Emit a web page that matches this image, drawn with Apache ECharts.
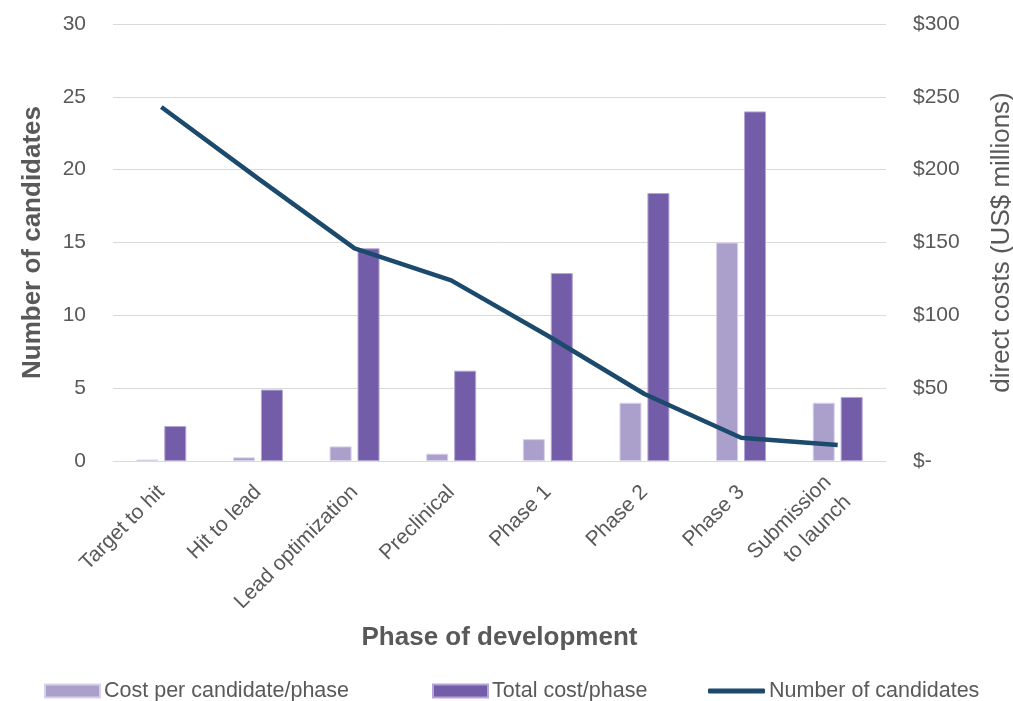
<!DOCTYPE html>
<html>
<head>
<meta charset="utf-8">
<script src="https://cdn.jsdelivr.net/npm/echarts@6/dist/echarts.min.js"></script>
<style>
  html, body { margin: 0; padding: 0; background: #fff; overflow: hidden; }
  #chart { width: 1013px; height: 701px; }
</style>
</head>
<body>
<div id="chart"></div>
<script>
// Development phases along the x axis
const phases = ['Target to hit', 'Hit to lead', 'Lead optimization', 'Preclinical',
                'Phase 1', 'Phase 2', 'Phase 3', 'Submission\nto launch'];
// Direct cost per candidate in each phase (US$ millions)
const costPerCandidate = [1, 2.5, 10, 5, 15, 40, 150, 40];
// Total direct cost of each phase (US$ millions)
const totalCost = [24, 49, 146, 62, 129, 184, 240, 44];
// Candidates needed in each phase for one launch
const candidates = [24.3, 19.4, 14.6, 12.4, 8.6, 4.6, 1.6, 1.1];
// Right axis tick labels
const costTickLabels = ['$-', '$50', '$100', '$150', '$200', '$250', '$300'];

const FONT = '"Liberation Sans", Arial, Helvetica, sans-serif';
const GREY = '#595959';

const chart = echarts.init(document.getElementById('chart'), null, { renderer: 'canvas', width: 1013, height: 701 });

const legendBase = {
  top: 678,
  padding: 0,
  itemGap: 0,
  itemHeight: 13,
  itemWidth: 55,
  textStyle: { fontFamily: FONT, fontSize: 21.5, color: GREY, lineHeight: 26, padding: [0, 0, 0, -1] },
  selectedMode: false
};

chart.setOption({
  backgroundColor: '#ffffff',
  animation: false,
  textStyle: { fontFamily: FONT },
  grid: { left: 113, right: 127, top: 24, bottom: 240, containLabel: false, outerBoundsMode: 'none' },
  legend: [
    Object.assign({}, legendBase, { left: 44, data: [{ name: 'Cost per candidate/phase', icon: 'rect' }] }),
    Object.assign({}, legendBase, { left: 432, data: [{ name: 'Total cost/phase', icon: 'rect' }] }),
    Object.assign({}, legendBase, {
      left: 708, itemHeight: 5, itemWidth: 57,
      data: [{ name: 'Number of candidates', icon: 'roundRect' }]
    })
  ],
  xAxis: {
    type: 'category',
    data: phases,
    name: 'Phase of development',
    nameLocation: 'middle',
    nameGap: 164,
    nameTextStyle: { fontFamily: FONT, fontSize: 26, fontWeight: 'bold', color: GREY },
    axisLine: { show: true, lineStyle: { color: '#d9d9d9', width: 1 } },
    axisTick: { show: false },
    axisLabel: {
      rotate: 45,
      interval: 0,
      margin: 28,
      fontFamily: FONT,
      fontSize: 21,
      color: GREY,
      lineHeight: 28,
      align: 'right'
    }
  },
  yAxis: [
    {
      type: 'value',
      min: 0,
      max: 30,
      interval: 5,
      name: 'Number of candidates',
      nameLocation: 'middle',
      nameGap: 67,
      nameTextStyle: { fontFamily: FONT, fontSize: 26, fontWeight: 'bold', color: GREY },
      axisLine: { show: false },
      axisTick: { show: false },
      axisLabel: { fontFamily: FONT, fontSize: 21, color: GREY, margin: 27 },
      splitLine: { lineStyle: { color: '#d9d9d9', width: 1 } }
    },
    {
      type: 'value',
      min: 0,
      max: 300,
      interval: 50,
      position: 'right',
      name: 'direct costs (US$ millions)',
      nameLocation: 'middle',
      nameGap: 103,
      nameRotate: 90,
      nameTextStyle: { fontFamily: FONT, fontSize: 26, color: GREY },
      axisLine: { show: false },
      axisTick: { show: false },
      axisLabel: {
        fontFamily: FONT, fontSize: 21, color: GREY, margin: 27, align: 'left',
        formatter: function (v) { return costTickLabels[Math.round(v / 50)]; }
      },
      splitLine: { show: false }
    }
  ],
  series: [
    {
      name: 'Cost per candidate/phase',
      type: 'bar',
      yAxisIndex: 1,
      data: costPerCandidate,
      barWidth: 22,
      barGap: '27%',
      itemStyle: { color: '#ab9fcc', borderColor: '#d8d1ea', borderWidth: 1 }
    },
    {
      name: 'Total cost/phase',
      type: 'bar',
      yAxisIndex: 1,
      data: totalCost,
      barWidth: 22,
      barGap: '27%',
      itemStyle: { color: '#735ca8', borderColor: '#b3a6d6', borderWidth: 1 }
    },
    {
      name: 'Number of candidates',
      type: 'line',
      yAxisIndex: 0,
      data: candidates,
      symbol: 'none',
      lineStyle: { color: '#1c4a6c', width: 4.5 },
      itemStyle: { color: '#1c4a6c' },
      z: 5
    }
  ]
});
</script>
</body>
</html>
